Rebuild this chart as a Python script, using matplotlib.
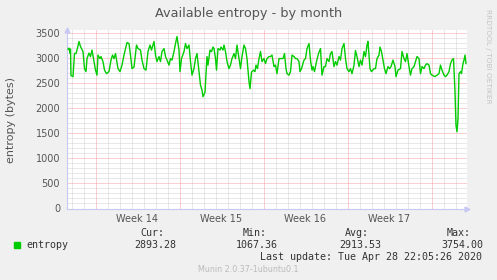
import matplotlib
matplotlib.use("Agg")
import matplotlib.pyplot as plt
import matplotlib.transforms as mtransforms
from matplotlib.patches import Rectangle

# hours since the left edge of the graph (1 px = 2 h), entropy in bytes
hours = [3, 5, 7, 8, 9, 13, 16, 19, 21, 25, 28, 33, 36, 39, 41, 45, 48, 51, 55, 58,
         61, 63, 67, 69, 73, 76, 80, 85, 89, 92, 95, 98, 103, 107, 111, 115, 118, 121, 125, 128,
         131, 135, 140, 143, 148, 151, 155, 159, 163, 167, 170, 175, 178, 181, 185, 188, 191, 195,
         198, 201, 205, 208, 211, 215, 218, 221, 225, 227, 230, 235, 238, 241, 245, 248, 251, 255,
         258, 261, 265, 268, 271, 273, 277, 279, 281, 283, 287, 290, 293, 295, 298, 300, 303, 307,
         309, 313, 315, 318, 321, 325, 328, 331, 335, 338, 341, 345, 348, 351, 355, 358, 361, 365,
         367, 370, 374, 377, 379, 382, 385, 388, 391, 395, 398, 401, 405,
         408, 411, 415, 418, 421, 425, 428, 433, 436, 439, 441, 445, 448, 451, 455, 458, 461, 465,
         467, 470, 475, 478, 481, 485, 488, 491, 493, 496, 500, 504, 508, 511, 515, 518, 521, 525,
         528, 531, 535, 538, 541, 545, 548, 551, 555, 558, 561, 565, 568, 571, 575, 578, 581, 585,
         588, 591, 595, 598, 601, 603, 607, 610, 615,
         618, 621, 625, 627, 630, 633, 636, 639, 643, 646, 649, 653, 657, 659, 663, 668, 671, 675,
         678, 681, 685, 688, 691, 695, 698, 701, 705, 708, 711, 715, 718, 721, 725, 728, 731, 737,
         741, 745, 748, 751, 755, 758, 761, 765, 768, 771, 774, 777, 779, 781, 783, 785, 788, 790,
         793, 795, 797, 799]
entropy = [3180, 3200, 3100, 3180, 2650, 2630, 3090, 3090, 3160, 3330, 3230, 3130, 2790, 2730, 2990, 3100, 3030, 3160, 2930, 2760,
           2660, 3060, 2990, 3030, 2930, 2760, 2690, 2730, 2960, 3060, 2990, 3090, 2790, 2730, 2860, 3060, 3190, 3310, 3290, 3060,
           2790, 2820, 3260, 3190, 3160, 2960, 2790, 2760, 3130, 3260, 3160, 3330, 3060, 2930, 3030, 2930, 3130, 3190,
           3030, 2960, 2860, 2990, 2960, 3130, 3290, 3430, 3160, 2730, 2990, 3130, 3290, 3190, 3260, 2930, 2660, 2790,
           2990, 3090, 2730, 2460, 2360, 2230, 2320, 2660, 3030, 2860, 3160, 3130, 3220, 3190, 2990, 2760, 3190, 3160,
           3220, 3160, 3260, 3130, 2930, 2790, 2860, 2990, 3090, 2990, 3260, 2990, 2790, 3030, 3260, 3190, 2990, 2530,
           2390, 2720, 2760, 2730, 2860, 2790, 2990, 3130, 2930, 2990, 2890, 2990, 3030,
           3030, 3060, 2830, 2860, 2690, 2990, 2990, 2990, 3090, 2790, 2690, 2660, 2730, 3060, 3030, 2990, 2990, 2930,
           2730, 2790, 2960, 2990, 3190, 3290, 2960, 2760, 2830, 2730, 2930, 3090, 3190, 2660, 2830, 2830, 2990, 2930,
           3090, 3130, 2830, 2930, 2860, 3030, 2960, 3190, 3290, 2990, 2790, 2730, 2790, 2690, 2860, 3150, 3030, 2830,
           2960, 2860, 3130, 3030, 3260, 3330, 2790, 2730, 2790,
           2790, 2990, 3060, 3220, 3130, 2960, 2790, 2690, 2830, 2790, 2830, 2960, 2830, 2630, 2760, 2790, 3130, 2990,
           2930, 3090, 2830, 2660, 2790, 2830, 2930, 3030, 2990, 2690, 2830, 2790, 2860, 2890, 2860, 2690, 2660, 2630,
           2660, 2690, 2860, 2760, 2660, 2630, 2660, 2730, 2890, 2960, 2990, 2330, 1660, 1530, 1790, 2690, 2730, 2690,
           2890, 2960, 3060, 2890]

week_starts = [58, 226, 394, 562, 730]
week_labels = ["Week 14", "Week 15", "Week 16", "Week 17"]
span_hours = 800
y_top = 3560

legend_heads = ["Cur:", "Min:", "Avg:", "Max:"]
legend_vals = ["2893.28", "1067.36", "2913.53", "3754.00"]

W, H = 497, 280
BG = "#F0F0F0"
GREEN = "#00CC00"
AXIS = "#C8C8F4"
MINOR = "#D2D2D2"
MAJOR = "#F4A0A0"


def fx(px):
    return px / W


def fy(py):
    return 1 - py / H


fig = plt.figure(figsize=(W / 100, H / 100), dpi=100, facecolor=BG)
ax = fig.add_axes([fx(66.5), fy(208.5), 400 / W, 178.5 / H])
ax.set_facecolor("white")
ax.set_xlim(0, span_hours)
ax.set_ylim(0, y_top)

dot = (0, (1, 1))
# daily and 100-byte grid
for h in range(week_starts[0] - 48, span_hours, 24):
    if h not in week_starts:
        ax.axvline(h, color=MINOR, lw=0.72, ls=dot, zorder=1)
for v in range(100, y_top, 100):
    if v % 500:
        ax.axhline(v, color=MINOR, lw=0.72, ls=dot, zorder=1)
# weekly and 500-byte grid
for h in week_starts:
    ax.axvline(h, color=MAJOR, lw=0.72, ls=dot, zorder=2)
for v in range(500, y_top, 500):
    ax.axhline(v, color=MAJOR, lw=0.72, ls=dot, zorder=2)

ax.plot(hours, entropy, color=GREEN, lw=1.0, zorder=3)

for s in ["top", "right"]:
    ax.spines[s].set_visible(False)
for s in ["left", "bottom"]:
    ax.spines[s].set_color(AXIS)
    ax.spines[s].set_linewidth(0.8)
ax.plot(1.0, 0, ">", color=AXIS, ms=3.5, transform=ax.transAxes, clip_on=False)
ax.plot(0, 1.0, "^", color=AXIS, ms=3.5, transform=ax.transAxes, clip_on=False)

ax.set_yticks(range(0, 3501, 500))
ax.set_xticks([(a + b) / 2 for a, b in zip(week_starts[:-1], week_starts[1:])])
ax.set_xticklabels(week_labels)
ax.tick_params(length=0, labelsize=7, labelcolor="#555555")
ax.tick_params(axis="y", pad=4.6)
ax.tick_params(axis="x", pad=4.0)

fig.text(fx(11), fy(120), "entropy (bytes)", rotation=90, ha="center", va="center",
         fontsize=8, color="#555555")
fig.text(fx(248.5), fy(13.5), "Available entropy - by month", ha="center", va="center",
         fontsize=9.3, color="#555555")
fig.text(fx(488), fy(56), "RRDTOOL / TOBI OETIKER", rotation=270, ha="center", va="center",
         fontsize=5.3, color="#C4C4C4")

mono = "DejaVu Sans Mono"
for head, px in zip(legend_heads, [140, 243, 345, 447]):
    fig.text(fx(px), fy(232.5), head, ha="left", va="center", family=mono, fontsize=7.2, color="#333333")
for val, px in zip(legend_vals, [134, 236, 339, 441]):
    fig.text(fx(px), fy(245), val, ha="left", va="center", family=mono, fontsize=7.2, color="#333333")
fig.patches.append(Rectangle((fx(14), fy(248)), 6 / W, 6 / H, transform=fig.transFigure,
                             color=GREEN))
fig.text(fx(26), fy(245), "entropy", ha="left", va="center", family=mono, fontsize=7.2, color="#333333")
fig.text(fx(482.5), fy(257), "Last update: Tue Apr 28 22:05:26 2020", ha="right", va="center",
         family=mono, fontsize=7.2, color="#333333")
fig.text(fx(248), fy(269.5), "Munin 2.0.37-1ubuntu0.1", ha="center", va="center",
         fontsize=5.8, color="#BBBBBB")

fig.savefig("out.png", dpi=100, facecolor=BG)
